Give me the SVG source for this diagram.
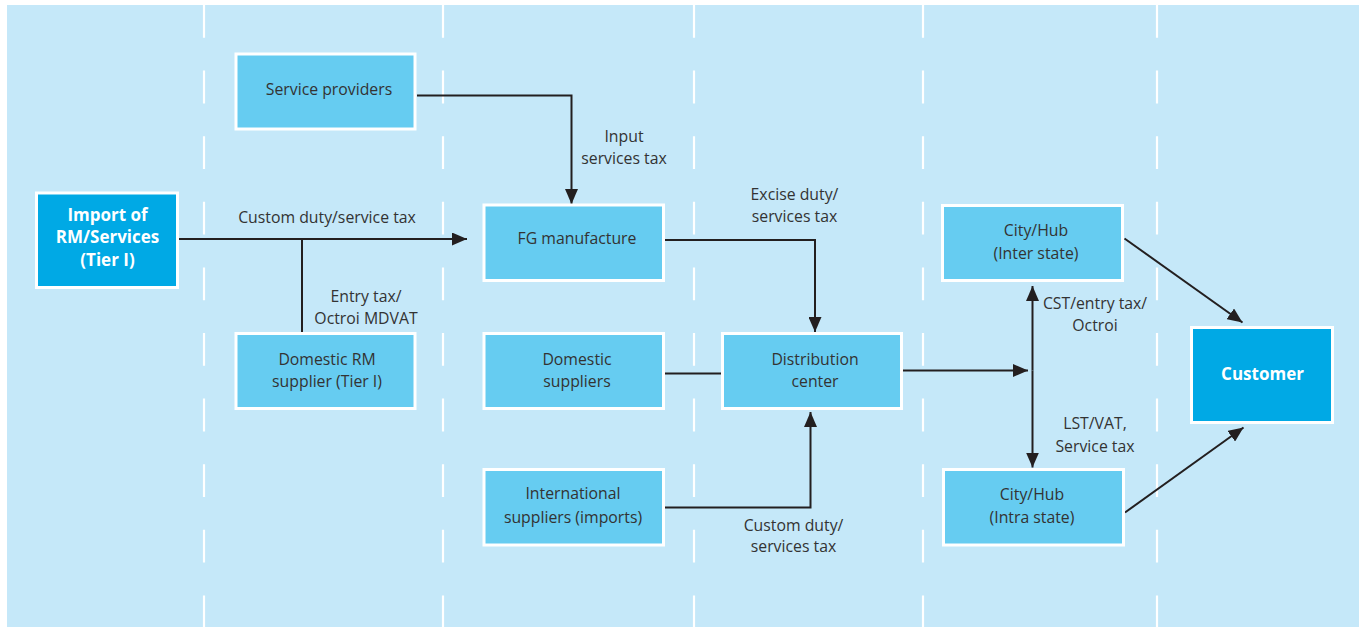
<svg xmlns="http://www.w3.org/2000/svg" width="1359" height="627" viewBox="0 0 1359 627">
<defs>
<style>
.bg{fill:#C5E8F9}
.lane{stroke:#FFFFFF;stroke-width:2.2;stroke-dasharray:32.8 32.8;fill:none}
.box{fill:#66CCF1;stroke:#FFFFFF;stroke-width:3}
.dark{fill:#00A9E5;stroke:#FFFFFF;stroke-width:3}
.t{font-family:"Open Sans","Noto Sans","Liberation Sans",sans-serif;font-size:15.8px;fill:#333333;text-anchor:middle}
.tb{font-family:"Open Sans","Noto Sans","Liberation Sans",sans-serif;font-size:17px;font-weight:bold;fill:#FFFFFF;text-anchor:middle}
.c{stroke:#231F20;stroke-width:2;fill:none}
</style>
<marker id="ah" markerUnits="userSpaceOnUse" markerWidth="16" markerHeight="13" refX="15" refY="6.5" orient="auto">
<path d="M0,0 L15,6.5 L0,13 Z" fill="#231F20"/>
</marker>
</defs>
<rect class="bg" x="7" y="5" width="1352" height="622"/>
<g id="lanes">
<line class="lane" x1="204" y1="5" x2="204" y2="627"/>
<line class="lane" x1="443" y1="5" x2="443" y2="627"/>
<line class="lane" x1="694" y1="5" x2="694" y2="627"/>
<line class="lane" x1="923" y1="5" x2="923" y2="627"/>
<line class="lane" x1="1157" y1="5" x2="1157" y2="627"/>
</g>
<g id="connectors">
<polyline class="c" points="417,95.5 571.5,95.5 571.5,204" marker-end="url(#ah)"/>
<line class="c" x1="179" y1="239" x2="467" y2="239" marker-end="url(#ah)"/>
<line class="c" x1="302" y1="239" x2="302" y2="332"/>
<polyline class="c" points="665,240 815,240 815,332" marker-end="url(#ah)"/>
<line class="c" x1="665" y1="373.5" x2="721" y2="373.5"/>
<polyline class="c" points="665,507.5 810.5,507.5 810.5,412" marker-end="url(#ah)"/>
<line class="c" x1="903" y1="370.5" x2="1028" y2="370.5" marker-end="url(#ah)"/>
<line class="c" x1="1032.5" y1="370.5" x2="1032.5" y2="286" marker-end="url(#ah)"/>
<line class="c" x1="1032.5" y1="370.5" x2="1032.5" y2="467.5" marker-end="url(#ah)"/>
<line class="c" x1="1124.5" y1="238.5" x2="1242.5" y2="322.5" marker-end="url(#ah)"/>
<line class="c" x1="1125" y1="512.5" x2="1243.5" y2="427.5" marker-end="url(#ah)"/>
</g>
<g id="labels">
<text class="t" x="327" y="223">Custom duty/service tax</text>
<text class="t" x="366" y="302">Entry tax/</text>
<text class="t" x="366" y="324">Octroi MDVAT</text>
<text class="t" x="624" y="142">Input</text>
<text class="t" x="624" y="164">services tax</text>
<text class="t" x="794.5" y="200">Excise duty/</text>
<text class="t" x="794.5" y="222">services tax</text>
<text class="t" x="793.5" y="531">Custom duty/</text>
<text class="t" x="793.5" y="552">services tax</text>
<text class="t" x="1095" y="309">CST/entry tax/</text>
<text class="t" x="1095" y="331">Octroi</text>
<text class="t" x="1095" y="429">LST/VAT,</text>
<text class="t" x="1095" y="452">Service tax</text>
</g>
<g id="service-providers">
<rect class="box" x="236" y="54" width="179" height="75"/>
<text class="t" x="329" y="95">Service providers</text>
</g>
<g id="import">
<rect class="dark" x="36.5" y="193" width="141" height="94.5"/>
<text class="tb" x="107.5" y="221">Import of</text>
<text class="tb" x="107.5" y="243">RM/Services</text>
<text class="tb" x="107.5" y="266">(Tier I)</text>
</g>
<g id="fg-manufacture">
<rect class="box" x="484" y="205" width="179.5" height="75.5"/>
<text class="t" x="577" y="244">FG manufacture</text>
</g>
<g id="domestic-rm">
<rect class="box" x="236" y="333.5" width="179" height="75"/>
<text class="t" x="327" y="365">Domestic RM</text>
<text class="t" x="327" y="387">supplier (Tier I)</text>
</g>
<g id="domestic-suppliers">
<rect class="box" x="484" y="333.5" width="179.5" height="75"/>
<text class="t" x="577" y="365">Domestic</text>
<text class="t" x="577" y="387">suppliers</text>
</g>
<g id="distribution-center">
<rect class="box" x="722.5" y="333.5" width="179" height="75"/>
<text class="t" x="815" y="365">Distribution</text>
<text class="t" x="815" y="387">center</text>
</g>
<g id="international-suppliers">
<rect class="box" x="484" y="469.5" width="179.5" height="75.5"/>
<text class="t" x="573" y="499">International</text>
<text class="t" x="573" y="523">suppliers (imports)</text>
</g>
<g id="hub-inter">
<rect class="box" x="942.5" y="205.5" width="180" height="75"/>
<text class="t" x="1036" y="236">City/Hub</text>
<text class="t" x="1036" y="259">(Inter state)</text>
</g>
<g id="hub-intra">
<rect class="box" x="943.5" y="469.5" width="180" height="75.5"/>
<text class="t" x="1032" y="500">City/Hub</text>
<text class="t" x="1032" y="523">(Intra state)</text>
</g>
<g id="customer">
<rect class="dark" x="1191.5" y="327.5" width="141" height="95"/>
<text class="tb" x="1262.5" y="380">Customer</text>
</g>
</svg>
